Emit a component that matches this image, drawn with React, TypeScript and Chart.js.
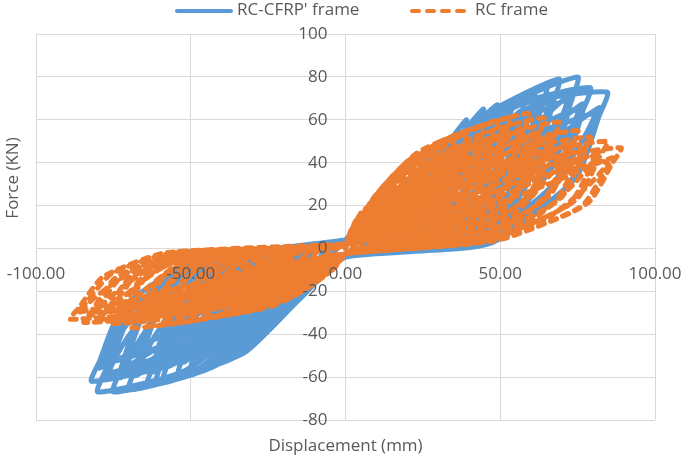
import React, { useEffect, useRef } from "react";
import { Chart, registerables } from "chart.js";

Chart.register(...registerables);

// ---- data ----
const seriesNames = ["RC-CFRP' frame", "RC frame"];
const xTitle = "Displacement (mm)";
const yTitle = "Force (KN)";
const xTickLabels = ["-100.00", "-50.00", "0.00", "50.00", "100.00"];
const yTickLabels = ["-80", "-60", "-40", "-20", "0", "20", "40", "60", "80", "100"];

// One row per loading cycle, x,y pairs along the path:
// 2 loading points, positive peak, 3 unloading points, zero crossing,
// 2 loading points, negative peak, 3 unloading points, zero crossing
const cfrpCycles: number[][] = [
  [1.5, 6.3, 3.3, 11.6, 5, 14, 4.9, 11.9, 4.4, 6.3, 2.8, 0.4, 0, -4, -1.5, -4.5, -3.3, -5.1, -5, -6, -4.9, -5.1, -4.4, -2.7, -3, -0.6, 0, 4],
  [3, 9, 6.5, 16.6, 10, 20, 9.7, 17, 8.8, 9, 5.5, 0.6, 0, -4, -3, -5.5, -6.5, -9.4, -10, -11, -9.7, -9.4, -8.8, -5, -6, -1.1, 0, 4],
  [4.5, 11.7, 9.8, 19, 15, 26, 14.6, 22.1, 13.2, 11.7, 8.3, 0.8, 0, -4, -4.5, -6.5, -9.8, -12.8, -15, -15, -14.6, -12.8, -13.2, -6.8, -9, -1.5, 0, 4],
  [6, 12, 13, 22, 20, 31, 19.4, 26.4, 17.6, 14, 11, 0.9, 0, -4, -6, -9.2, -13, -18.7, -20, -22, -19.4, -18.7, -17.6, -9.9, -12, -2.2, 0, 4],
  [8, 8.7, 14.4, 18.6, 19.4, 27.9, 18.8, 23.6, 17, 12.4, 10.4, 0.9, 0, -4, -8, -6.6, -14.4, -14.3, -19.4, -19.8, -18.8, -16.7, -17, -8.8, -11.4, -2, 0, 4],
  [7.5, 13.7, 16.3, 25, 25, 38, 24.3, 32.3, 22, 17.1, 13.8, 1.1, 0, -4, -7.5, -11.8, -16.3, -23.8, -25, -28, -24.3, -23.8, -22, -12.6, -15, -2.8, 0, 4],
  [10, 10.6, 18, 22.8, 24.3, 34.2, 23.5, 28.9, 21.3, 15.2, 13, 1.1, 0, -4, -10, -8.4, -18, -18.2, -24.3, -25.2, -23.5, -21.3, -21.3, -11.2, -14.3, -2.5, 0, 4],
  [9, 16.6, 19.5, 27, 30, 46, 29.1, 39.1, 26.4, 20.7, 16.5, 1.4, 0, -4, -9, -13.9, -19.5, -28, -30, -33, -29.1, -28, -26.4, -14.9, -18, -3.3, 0, 4],
  [12, 12.9, 21.6, 27.6, 29.1, 41.4, 28.2, 35, 25.5, 18.4, 15.6, 1.4, 0, -4, -12, -9.9, -21.6, -21.5, -29.1, -29.7, -28.2, -25.1, -25.5, -13.2, -17.1, -3, 0, 4],
  [10.2, 18.7, 22.1, 31, 34, 52, 33, 44.2, 29.9, 23.4, 18.7, 1.6, 0, -4, -10.2, -15.5, -22.1, -31.5, -34, -37, -33, -31.5, -29.9, -16.7, -20.4, -3.7, 0, 4],
  [13.6, 14.6, 24.5, 31.2, 33, 46.8, 32, 39.5, 28.9, 20.8, 17.7, 1.6, 0, -4, -13.6, -11.1, -24.5, -24.1, -33, -33.3, -32, -28.1, -28.9, -14.8, -19.4, -3.3, 0, 4],
  [11.7, 21.6, 25.4, 35, 39, 60, 37.8, 51, 34.3, 27, 21.5, 1.8, 0, -4, -11.7, -17.6, -25.4, -35.7, -39, -42, -37.8, -35.7, -34.3, -18.9, -23.4, -4.2, 0, 4],
  [15.6, 16.8, 28.1, 36, 37.8, 54, 36.7, 45.6, 33.2, 24, 20.3, 1.8, 0, -4, -15.6, -12.6, -28.1, -27.3, -37.8, -37.8, -36.7, -31.9, -33.2, -16.8, -22.2, -3.8, 0, 4],
  [13.4, 23.4, 28.9, 39, 44.5, 65, 43.2, 55.3, 39.2, 29.3, 24.5, 2, 0, -4, -13.2, -21, -28.6, -42.5, -44, -50, -42.7, -42.5, -38.7, -22.5, -26.4, -5, 0, 4],
  [17.8, 18.2, 32, 39, 43.2, 58.5, 41.8, 49.4, 37.8, 26, 23.1, 2, 0, -4, -17.6, -15, -31.7, -32.5, -42.7, -45, -41.4, -38, -37.4, -20, -25.1, -4.5, 0, 4],
  [14.7, 24.1, 31.9, 44, 49, 67, 47.5, 57, 43.1, 30.2, 27, 2, 0, -4, -15, -23.9, -32.5, -48.5, -50, -57, -48.5, -48.5, -44, -25.7, -30, -5.7, 0, 4],
  [19.6, 18.8, 35.3, 40.2, 47.5, 60.3, 46.1, 50.9, 41.7, 26.8, 25.5, 2, 0, -4, -20, -17.1, -36, -37.1, -48.5, -51.3, -47, -43.3, -42.5, -22.8, -28.5, -5.1, 0, 4],
  [16.2, 24.8, 35.1, 50, 54, 69, 52.4, 58.7, 47.5, 31, 29.7, 2.1, 0, -4, -16.2, -24.8, -35.1, -50.2, -54, -59, -52.4, -50.2, -47.5, -26.6, -32.4, -5.9, 0, 4],
  [21.6, 19.3, 38.9, 41.4, 52.4, 62.1, 50.8, 52.4, 45.9, 27.6, 28.1, 2.1, 0, -4, -21.6, -17.7, -38.9, -38.4, -52.4, -53.1, -50.8, -44.8, -45.9, -23.6, -30.8, -5.3, 0, 4],
  [17.4, 25.6, 37.7, 53, 58, 71, 56.3, 60.4, 51, 32, 31.9, 2.1, 0, -4, -17.6, -25.6, -38.2, -51.9, -58.7, -61, -56.9, -51.9, -51.7, -27.5, -35.2, -6.1, 0, 4],
  [23.2, 19.9, 41.8, 42.6, 56.3, 63.9, 54.5, 54, 49.3, 28.4, 30.2, 2.1, 0, -4, -23.5, -18.3, -42.3, -39.7, -56.9, -54.9, -55.2, -46.4, -49.9, -24.4, -33.5, -5.5, 0, 4],
  [18.3, 26.3, 39.7, 56, 61, 73, 59.2, 62, 53.7, 32.9, 33.6, 2.2, 0, -4, -18.3, -26, -39.7, -52.7, -61, -62, -59.2, -52.7, -53.7, -27.9, -36.6, -6.2, 0, 4],
  [24.4, 20.4, 43.9, 43.8, 59.2, 65.7, 57.3, 55.5, 51.9, 29.2, 31.7, 2.2, 0, -4, -24.4, -18.6, -43.9, -40.3, -59.2, -55.8, -57.3, -47.1, -51.9, -24.8, -34.8, -5.6, 0, 4],
  [19.5, 27.4, 42.3, 59, 65, 76, 63, 64.6, 57.2, 34.2, 35.8, 2.3, 0, -4, -19.2, -26.9, -41.6, -54.4, -64, -64, -62.1, -54.4, -56.3, -28.8, -38.4, -6.4, 0, 4],
  [26, 21.3, 46.8, 45.6, 63, 68.4, 61.1, 57.8, 55.3, 30.4, 33.8, 2.3, 0, -4, -25.6, -19.2, -46.1, -41.6, -62.1, -57.6, -60.2, -48.6, -54.4, -25.6, -36.5, -5.8, 0, 4],
  [20.7, 28.4, 44.9, 62, 69, 79, 66.9, 67.2, 60.7, 35.6, 38, 2.4, 0, -4, -21, -27.7, -45.5, -56.1, -70, -66, -67.9, -56.1, -61.6, -29.7, -42, -6.6, 0, 4],
  [27.6, 22.1, 49.7, 47.4, 66.9, 71.1, 64.9, 60, 58.7, 31.6, 35.9, 2.4, 0, -4, -28, -19.8, -50.4, -42.9, -67.9, -59.4, -65.8, -50.2, -59.5, -26.4, -39.9, -5.9, 0, 4],
  [22.5, 28.8, 48.8, 64, 75, 80, 72.8, 68, 66, 36, 41.3, 2.4, 0, -4, -22.5, -28.1, -48.8, -57, -75, -67, -72.8, -57, -66, -30.2, -45, -6.7, 0, 4],
  [30, 22.4, 54, 48, 72.8, 72, 70.5, 60.8, 63.8, 32, 39, 2.4, 0, -4, -30, -20.1, -54, -43.6, -72.8, -60.3, -70.5, -50.9, -63.8, -26.8, -42.8, -6, 0, 4],
  [23.7, 27, 51.4, 65, 79, 75, 76.6, 63.8, 69.5, 33.8, 43.5, 2.3, 0, -4, -24, -28.1, -52, -57, -80, -67, -77.6, -57, -70.4, -30.2, -48, -6.7, 0, 4],
  [31.6, 21, 56.9, 45, 76.6, 67.5, 74.3, 57, 67.2, 30, 41.1, 2.3, 0, -4, -32, -20.1, -57.6, -43.6, -77.6, -60.3, -75.2, -50.9, -68, -26.8, -45.6, -6, 0, 4],
  [25.4, 26.3, 54.9, 66, 84.5, 73, 82, 62, 74.4, 32.9, 46.5, 2.2, 0, -4, -24.6, -26, -53.3, -52.7, -82, -62, -79.5, -52.7, -72.2, -27.9, -49.2, -6.2, 0, 4],
  [33.8, 20.4, 60.8, 43.8, 82, 65.7, 79.4, 55.5, 71.8, 29.2, 43.9, 2.2, 0, -4, -32.8, -18.6, -59, -40.3, -79.5, -55.8, -77.1, -47.1, -69.7, -24.8, -46.7, -5.6, 0, 4],
];

// third cycle at each larger amplitude
const cfrpCycles3: number[][] = [
  [10.5, 15.2, 20.4, 31.3, 28.5, 39.6, 26.4, 28.5, 21.6, 11.5, 13.5, 1.4, 0, -4, -10.5, -11.6, -20.4, -23.1, -28.5, -28.4, -26.4, -20.5, -21.6, -9.2, -15, -2.3, 0, 4],
  [11.9, 17.2, 23.1, 35.4, 32.3, 44.7, 29.9, 32.2, 24.5, 13, 15.3, 1.6, 0, -4, -11.9, -13, -23.1, -25.9, -32.3, -31.8, -29.9, -22.9, -24.5, -10.4, -17, -2.6, 0, 4],
  [13.7, 19.8, 26.5, 40.8, 37, 51.6, 34.3, 37.2, 28.1, 15, 17.6, 1.8, 0, -4, -13.7, -14.7, -26.5, -29.4, -37, -36.1, -34.3, -26, -28.1, -11.8, -19.5, -2.9, 0, 4],
  [15.6, 21.5, 30.3, 44.2, 42.3, 55.9, 39.2, 40.3, 32, 16.3, 20, 2, 0, -4, -15.4, -17.5, -29.9, -35, -41.8, -43, -38.7, -31, -31.7, -14, -22, -3.5, 0, 4],
  [17.2, 22.1, 33.3, 45.6, 46.6, 57.6, 43.1, 41.5, 35.3, 16.8, 22, 2, 0, -4, -17.5, -20, -34, -39.9, -47.5, -49, -44, -35.3, -36, -16, -25, -4, 0, 4],
  [18.9, 22.8, 36.7, 46.9, 51.3, 59.3, 47.5, 42.8, 38.9, 17.3, 24.3, 2.1, 0, -4, -18.9, -20.7, -36.7, -41.3, -51.3, -50.7, -47.5, -36.6, -38.9, -16.5, -27, -4.1, 0, 4],
  [20.3, 23.4, 39.4, 48.3, 55.1, 61.1, 51, 44, 41.8, 17.8, 26.1, 2.1, 0, -4, -20.5, -21.4, -39.9, -42.7, -55.8, -52.5, -51.7, -37.8, -42.3, -17.1, -29.4, -4.3, 0, 4],
  [21.4, 24.1, 41.5, 49.6, 58, 62.8, 53.7, 45.3, 43.9, 18.3, 27.5, 2.2, 0, -4, -21.4, -21.7, -41.5, -43.4, -58, -53.3, -53.7, -38.4, -43.9, -17.4, -30.5, -4.3, 0, 4],
  [22.8, 25.1, 44.2, 51.7, 61.8, 65.4, 57.2, 47.1, 46.8, 19, 29.3, 2.3, 0, -4, -22.4, -22.4, -43.5, -44.8, -60.8, -55, -56.3, -39.7, -46.1, -17.9, -32, -4.5, 0, 4],
  [24.2, 26.1, 46.9, 53.7, 65.6, 67.9, 60.7, 49, 49.7, 19.8, 31, 2.4, 0, -4, -24.5, -23.1, -47.6, -46.2, -66.5, -56.8, -61.6, -40.9, -50.4, -18.5, -35, -4.6, 0, 4],
  [26.3, 26.4, 51, 54.4, 71.3, 68.8, 66, 49.6, 54, 20, 33.8, 2.4, 0, -4, -26.3, -23.5, -51, -46.9, -71.3, -57.6, -66, -41.5, -54, -18.8, -37.5, -4.7, 0, 4],
  [27.7, 24.8, 53.7, 51, 75, 64.5, 69.5, 46.5, 56.9, 18.8, 35.6, 2.3, 0, -4, -28, -23.5, -54.4, -46.9, -76, -57.6, -70.4, -41.5, -57.6, -18.8, -40, -4.7, 0, 4],
  [29.6, 24.1, 57.5, 49.6, 80.3, 62.8, 74.4, 45.3, 60.8, 18.3, 38, 2.2, 0, -4, -28.7, -21.7, -55.8, -43.4, -77.9, -53.3, -72.2, -38.4, -59, -17.4, -41, -4.3, 0, 4],
];

const rcCycles: number[][] = [
  [1.5, 7.5, 3.3, 12.8, 5, 15, 4.9, 12.8, 4.4, 6.8, 2.8, 1.2, 0, -2.5, -1.5, -4.4, -3.3, -7, -5, -8, -4.9, -6.8, -4.4, -3.2, -3.3, -0.5, 0, 2],
  [2.4, 10, 5.2, 17, 8, 20, 7.8, 17, 7, 9, 4.4, 1.6, 0, -2.5, -2.4, -7.2, -5.2, -11.4, -8, -13, -7.8, -11, -7, -5.2, -5.2, -0.8, 0, 2],
  [4, 13, 8.8, 22.1, 13.5, 26, 13.1, 22.1, 11.9, 11.7, 7.4, 2.1, 0, -2.5, -4, -9.4, -8.8, -15, -13.5, -17, -13.1, -14.5, -11.9, -6.8, -8.8, -1, 0, 2],
  [5.4, 16, 11.7, 27.2, 18, 32, 17.5, 27.2, 15.8, 14.4, 9.9, 2.6, 0, -2.5, -5.4, -11, -11.7, -17.6, -18, -20, -17.5, -17, -15.8, -8, -11.7, -1.2, 0, 2],
  [7.2, 9.6, 13, 19.8, 17.5, 28.8, 16.9, 24.3, 15.3, 12.8, 9.4, 2.2, 0, -2.5, -7.2, -7, -13, -13.6, -17.5, -18, -16.9, -15.2, -15.3, -7.2, -11.2, -1, 0, 2],
  [6.9, 19, 15, 32.3, 23, 38, 22.3, 32.3, 20.2, 17.1, 12.7, 3, 0, -2.5, -6.9, -12.7, -15, -20.2, -23, -23, -22.3, -19.6, -20.2, -9.2, -15, -1.4, 0, 2],
  [9.2, 11.4, 16.6, 23.6, 22.3, 34.2, 21.6, 28.9, 19.6, 15.2, 12, 2.7, 0, -2.5, -9.2, -8, -16.6, -15.6, -22.3, -20.7, -21.6, -17.5, -19.6, -8.3, -14.3, -1.2, 0, 2],
  [8.1, 21.5, 17.6, 36.6, 27, 43, 26.2, 36.6, 23.8, 19.4, 14.9, 3.4, 0, -2.5, -8.1, -14.3, -17.6, -22.9, -27, -26, -26.2, -22.1, -23.8, -10.4, -17.6, -1.6, 0, 2],
  [10.8, 12.9, 19.4, 26.7, 26.2, 38.7, 25.4, 32.7, 23, 17.2, 14, 3, 0, -2.5, -10.8, -9.1, -19.4, -17.7, -26.2, -23.4, -25.4, -19.8, -23, -9.4, -16.7, -1.3, 0, 2],
  [9.3, 24, 20.2, 40.8, 31, 48, 30.1, 40.8, 27.3, 21.6, 17, 3.8, 0, -2.5, -9.3, -15.4, -20.2, -24.6, -31, -28, -30.1, -23.8, -27.3, -11.2, -20.2, -1.7, 0, 2],
  [12.4, 14.4, 22.3, 29.8, 30.1, 43.2, 29.1, 36.5, 26.4, 19.2, 16.1, 3.4, 0, -2.5, -12.4, -9.8, -22.3, -19, -30.1, -25.2, -29.1, -21.3, -26.4, -10.1, -19.2, -1.4, 0, 2],
  [10.5, 26, 22.8, 44.2, 35, 52, 34, 44.2, 30.8, 23.4, 19.3, 4.2, 0, -2.5, -10.5, -16.5, -22.8, -26.4, -35, -30, -34, -25.5, -30.8, -12, -22.8, -1.8, 0, 2],
  [14, 15.6, 25.2, 32.2, 34, 46.8, 32.9, 39.5, 29.8, 20.8, 18.2, 3.6, 0, -2.5, -14, -10.5, -25.2, -20.4, -34, -27, -32.9, -22.8, -29.8, -10.8, -21.7, -1.5, 0, 2],
  [11.7, 26.5, 25.4, 45, 39, 53, 37.8, 45, 34.3, 23.9, 21.5, 4.2, 0, -2.5, -11.7, -17, -25.4, -27.3, -39, -31, -37.8, -26.4, -34.3, -12.4, -25.4, -1.9, 0, 2],
  [15.6, 15.9, 28.1, 32.9, 37.8, 47.7, 36.7, 40.3, 33.2, 21.2, 20.3, 3.7, 0, -2.5, -15.6, -10.9, -28.1, -21.1, -37.8, -27.9, -36.7, -23.6, -33.2, -11.2, -24.2, -1.6, 0, 2],
  [13.4, 28.5, 28.9, 48.5, 44.5, 57, 43.2, 48.5, 39.2, 25.7, 24.5, 4.6, 0, -2.5, -13.4, -17.6, -28.9, -28.2, -44.5, -32, -43.2, -27.2, -39.2, -12.8, -28.9, -1.9, 0, 2],
  [17.8, 17.1, 32, 35.3, 43.2, 51.3, 41.8, 43.3, 37.8, 22.8, 23.1, 4, 0, -2.5, -17.8, -11.2, -32, -21.8, -43.2, -28.8, -41.8, -24.3, -37.8, -11.5, -27.6, -1.6, 0, 2],
  [14.7, 29.5, 31.9, 50.2, 49, 59, 47.5, 50.2, 43.1, 26.6, 27, 4.7, 0, -2.5, -14.7, -18.2, -31.9, -29, -49, -33, -47.5, -28, -43.1, -13.2, -31.9, -2, 0, 2],
  [19.6, 17.7, 35.3, 36.6, 47.5, 53.1, 46.1, 44.8, 41.7, 23.6, 25.5, 4.1, 0, -2.5, -19.6, -11.6, -35.3, -22.4, -47.5, -29.7, -46.1, -25.1, -41.7, -11.9, -30.4, -1.7, 0, 2],
  [15.9, 30.5, 34.5, 51.9, 53, 61, 51.4, 51.9, 46.6, 27.5, 29.2, 4.9, 0, -2.5, -15.9, -18.7, -34.5, -29.9, -53, -34, -51.4, -28.9, -46.6, -13.6, -34.5, -2, 0, 2],
  [21.2, 18.3, 38.2, 37.8, 51.4, 54.9, 49.8, 46.4, 45, 24.4, 27.6, 4.3, 0, -2.5, -21.2, -11.9, -38.2, -23.1, -51.4, -30.6, -49.8, -25.8, -45, -12.2, -32.9, -1.7, 0, 2],
  [17.7, 31.5, 38.4, 53.6, 59, 63, 57.2, 53.6, 51.9, 28.4, 32.5, 5, 0, -2.5, -17.7, -19, -38.4, -30.4, -59, -34.5, -57.2, -29.3, -51.9, -13.8, -38.4, -2.1, 0, 2],
  [23.6, 18.9, 42.5, 39.1, 57.2, 56.7, 55.5, 47.9, 50.2, 25.2, 30.7, 4.4, 0, -2.5, -23.6, -12.1, -42.5, -23.5, -57.2, -31.1, -55.5, -26.2, -50.2, -12.4, -36.6, -1.7, 0, 2],
  [19.2, 30.5, 41.6, 51.9, 64, 61, 62.1, 51.9, 56.3, 27.5, 35.2, 4.9, 0, -2.5, -19.2, -19.8, -41.6, -31.7, -64, -36, -62.1, -30.6, -56.3, -14.4, -41.6, -2.2, 0, 2],
  [25.6, 18.3, 46.1, 37.8, 62.1, 54.9, 60.2, 46.4, 54.4, 24.4, 33.3, 4.3, 0, -2.5, -25.6, -12.6, -46.1, -24.5, -62.1, -32.4, -60.2, -27.4, -54.4, -13, -39.7, -1.8, 0, 2],
  [20.7, 29.5, 44.9, 50.2, 69, 59, 66.9, 50.2, 60.7, 26.6, 38, 4.7, 0, -2.5, -20.7, -20.4, -44.9, -32.6, -69, -37, -66.9, -31.5, -60.7, -14.8, -44.9, -2.2, 0, 2],
  [27.6, 17.7, 49.7, 36.6, 66.9, 53.1, 64.9, 44.8, 58.7, 23.6, 35.9, 4.1, 0, -2.5, -27.6, -13, -49.7, -25.2, -66.9, -33.3, -64.9, -28.1, -58.7, -13.3, -42.8, -1.9, 0, 2],
  [22.5, 27.5, 48.8, 46.8, 75, 55, 72.8, 46.8, 66, 24.8, 41.3, 4.4, 0, -2.5, -22.5, -19.3, -48.8, -30.8, -75, -35, -72.8, -29.8, -66, -14, -48.8, -2.1, 0, 2],
  [30, 16.5, 54, 34.1, 72.8, 49.5, 70.5, 41.8, 63.8, 22, 39, 3.9, 0, -2.5, -30, -12.3, -54, -23.8, -72.8, -31.5, -70.5, -26.6, -63.8, -12.6, -46.5, -1.8, 0, 2],
  [23.7, 26, 51.4, 44.2, 79, 52, 76.6, 44.2, 69.5, 23.4, 43.5, 4.2, 0, -2.5, -23.7, -18.2, -51.4, -29, -79, -33, -76.6, -28, -69.5, -13.2, -51.4, -2, 0, 2],
  [31.6, 15.6, 56.9, 32.2, 76.6, 46.8, 74.3, 39.5, 67.2, 20.8, 41.1, 3.6, 0, -2.5, -31.6, -11.6, -56.9, -22.4, -76.6, -29.7, -74.3, -25.1, -67.2, -11.9, -49, -1.7, 0, 2],
  [25.4, 25, 54.9, 42.5, 84.5, 50, 82, 42.5, 74.4, 22.5, 46.5, 4, 0, -2.5, -25.4, -19, -54.9, -30.4, -84.5, -34.5, -82, -29.3, -74.4, -13.8, -54.9, -2.1, 0, 2],
  [33.8, 15, 60.8, 31, 82, 45, 79.4, 38, 71.8, 20, 43.9, 3.5, 0, -2.5, -33.8, -12.1, -60.8, -23.5, -82, -31.1, -79.4, -26.2, -71.8, -12.4, -52.4, -1.7, 0, 2],
  [26.7, 23.5, 57.9, 40, 89, 47, 86.3, 40, 78.3, 21.2, 49, 3.8, 0, -2.5, -26.7, -18.2, -57.9, -29, -89, -33, -86.3, -28, -78.3, -13.2, -57.9, -2, 0, 2],
  [35.6, 14.1, 64.1, 29.1, 86.3, 42.3, 83.7, 35.7, 75.7, 18.8, 46.3, 3.3, 0, -2.5, -35.6, -11.6, -64.1, -22.4, -86.3, -29.7, -83.7, -25.1, -75.7, -11.9, -55.2, -1.7, 0, 2],
];

const rcCycles3: number[][] = [
  [9.5, 15.5, 18.4, 30.1, 25.7, 37, 23.8, 26.7, 19.4, 12, 12.2, 2.2, 0, -2.5, -9.5, -10.4, -18.4, -19.2, -25.7, -22.4, -23.8, -15.6, -20, -6.5, -14.9, -1, 0, 2],
  [10.9, 17.3, 21.1, 33.6, 29.5, 41.3, 27.3, 29.8, 22.3, 13.4, 14, 2.4, 0, -2.5, -10.9, -11.2, -21.1, -20.7, -29.5, -24.1, -27.3, -16.8, -22.9, -7, -17.1, -1.1, 0, 2],
  [12.3, 18.7, 23.8, 36.4, 33.3, 44.7, 30.8, 32.2, 25.2, 14.6, 15.8, 2.6, 0, -2.5, -12.3, -12, -23.8, -22.2, -33.3, -25.8, -30.8, -18, -25.9, -7.5, -19.3, -1.2, 0, 2],
  [13.7, 19.1, 26.5, 37.1, 37, 45.6, 34.3, 32.9, 28.1, 14.8, 17.6, 2.7, 0, -2.5, -13.7, -12.4, -26.5, -22.9, -37, -26.7, -34.3, -18.6, -28.9, -7.8, -21.5, -1.2, 0, 2],
  [15.6, 20.5, 30.3, 39.9, 42.3, 49, 39.2, 35.3, 32, 16, 20, 2.9, 0, -2.5, -15.6, -12.8, -30.3, -23.7, -42.3, -27.5, -39.2, -19.2, -32.9, -8, -24.5, -1.3, 0, 2],
  [17.2, 21.2, 33.3, 41.3, 46.6, 50.7, 43.1, 36.6, 35.3, 16.5, 22, 3, 0, -2.5, -17.2, -13.2, -33.3, -24.4, -46.6, -28.4, -43.1, -19.8, -36.3, -8.3, -27, -1.3, 0, 2],
  [18.6, 22, 36, 42.7, 50.4, 52.5, 46.6, 37.8, 38.2, 17.1, 23.9, 3.1, 0, -2.5, -18.6, -13.6, -36, -25.2, -50.4, -29.2, -46.6, -20.4, -39.2, -8.5, -29.2, -1.4, 0, 2],
  [20.7, 22.7, 40.1, 44.1, 56, 54.2, 51.9, 39.1, 42.5, 17.6, 26.6, 3.2, 0, -2.5, -20.7, -13.8, -40.1, -25.5, -56, -29.7, -51.9, -20.7, -43.7, -8.6, -32.5, -1.4, 0, 2],
  [22.4, 22, 43.5, 42.7, 60.8, 52.5, 56.3, 37.8, 46.1, 17.1, 28.8, 3.1, 0, -2.5, -22.4, -14.4, -43.5, -26.6, -60.8, -31, -56.3, -21.6, -47.4, -9, -35.2, -1.4, 0, 2],
  [24.2, 21.2, 46.9, 41.3, 65.6, 50.7, 60.7, 36.6, 49.7, 16.5, 31, 3, 0, -2.5, -24.2, -14.8, -46.9, -27.4, -65.6, -31.8, -60.7, -22.2, -51.1, -9.3, -38, -1.5, 0, 2],
  [26.3, 19.8, 51, 38.5, 71.3, 47.3, 66, 34.1, 54, 15.4, 33.8, 2.8, 0, -2.5, -26.3, -14, -51, -25.9, -71.3, -30.1, -66, -21, -55.5, -8.8, -41.3, -1.4, 0, 2],
  [27.7, 18.7, 53.7, 36.4, 75, 44.7, 69.5, 32.2, 56.9, 14.6, 35.6, 2.6, 0, -2.5, -27.7, -13.2, -53.7, -24.4, -75, -28.4, -69.5, -19.8, -58.5, -8.3, -43.5, -1.3, 0, 2],
  [29.6, 18, 57.5, 35, 80.3, 43, 74.4, 31, 60.8, 14, 38, 2.5, 0, -2.5, -29.6, -13.8, -57.5, -25.5, -80.3, -29.7, -74.4, -20.7, -62.5, -8.6, -46.5, -1.4, 0, 2],
  [31.2, 16.9, 60.5, 32.9, 84.6, 40.4, 78.3, 29.1, 64.1, 13.2, 40, 2.4, 0, -2.5, -31.2, -13.2, -60.5, -24.4, -84.6, -28.4, -78.3, -19.8, -65.9, -8.3, -49, -1.3, 0, 2],
];

// ---- styles ----
const BLUE = "#5B9BD5";
const ORANGE = "#ED7D31";
const TEXT = "#595959";
const GRID = "#D9D9D9";
const FONT_FAMILY = "'Open Sans', 'Liberation Sans', sans-serif";
const FONT = `17px ${FONT_FAMILY}`;
const LEGEND_DASH = [7, 8];
const DATA_DASH = [6, 7];

function toPoints(rows: number[][]) {
  const pts: { x: number; y: number }[] = [{ x: 0, y: 0 }];
  rows.forEach((row) => {
    for (let i = 0; i < row.length; i += 2) pts.push({ x: row[i], y: row[i + 1] });
  });
  return pts;
}

const textPlugin = {
  id: "textPlugin",
  afterDatasetsDraw(chart: any) {
    const { ctx } = chart;
    const xs = chart.scales.x;
    const ys = chart.scales.y;
    ctx.save();
    ctx.fillStyle = TEXT;
    ctx.font = FONT;
    ctx.textBaseline = "middle";
    const y0 = ys.getPixelForValue(0);
    ctx.textAlign = "center";
    xTickLabels.forEach((l) => ctx.fillText(l, xs.getPixelForValue(parseFloat(l)), y0 + 26));
    const x0 = xs.getPixelForValue(0);
    ctx.textAlign = "right";
    yTickLabels.forEach((l) => ctx.fillText(l, x0 - 18, ys.getPixelForValue(parseFloat(l))));
    ctx.restore();
  },
  afterDraw(chart: any) {
    const { ctx, chartArea } = chart;
    ctx.save();
    ctx.fillStyle = TEXT;
    ctx.font = FONT;
    ctx.textBaseline = "middle";
    ctx.textAlign = "center";
    ctx.fillText(xTitle, (chartArea.left + chartArea.right) / 2, 446);
    ctx.save();
    ctx.translate(13, 178);
    ctx.rotate(-Math.PI / 2);
    ctx.fillText(yTitle, 0, 0);
    ctx.restore();
    ctx.lineCap = "round";
    ctx.lineWidth = 4;
    ctx.strokeStyle = BLUE;
    ctx.beginPath();
    ctx.moveTo(177, 11);
    ctx.lineTo(231, 11);
    ctx.stroke();
    ctx.strokeStyle = ORANGE;
    ctx.setLineDash(LEGEND_DASH);
    ctx.beginPath();
    ctx.moveTo(412, 11);
    ctx.lineTo(468, 11);
    ctx.stroke();
    ctx.setLineDash([]);
    ctx.textAlign = "left";
    ctx.fillText(seriesNames[0], 237, 10);
    ctx.fillText(seriesNames[1], 475, 10);
    ctx.restore();
  },
};

export default function App() {
  const ref = useRef<HTMLCanvasElement | null>(null);
  useEffect(() => {
    if (!ref.current) return;
    const xVals = xTickLabels.map((l) => parseFloat(l));
    const yVals = yTickLabels.map((l) => parseFloat(l));
    const chart = new Chart(ref.current, {
      type: "scatter",
      data: {
        datasets: [
          {
            label: seriesNames[0],
            data: toPoints([...cfrpCycles, ...cfrpCycles3]),
            showLine: true,
            borderColor: BLUE,
            backgroundColor: BLUE,
            borderWidth: 5,
            pointRadius: 0,
            tension: 0.2,
            borderCapStyle: "round",
            borderJoinStyle: "round",
            order: 1,
          },
          {
            label: seriesNames[1],
            data: toPoints([...rcCycles, ...rcCycles3]),
            showLine: true,
            borderColor: ORANGE,
            backgroundColor: ORANGE,
            borderWidth: 5,
            pointRadius: 0,
            tension: 0.2,
            borderDash: DATA_DASH,
            borderCapStyle: "round",
            borderJoinStyle: "round",
            order: 0,
          },
        ],
      },
      options: {
        animation: false,
        responsive: false,
        devicePixelRatio: 1,
        layout: { padding: { left: 36, right: 30, top: 34, bottom: 39 } },
        plugins: { legend: { display: false }, tooltip: { enabled: false }, title: { display: false } },
        scales: {
          x: {
            type: "linear",
            position: { y: 0 } as any,
            min: xVals[0],
            max: xVals[xVals.length - 1],
            afterBuildTicks: (s: any) => {
              s.ticks = xVals.map((v) => ({ value: v }));
            },
            ticks: { display: false },
            grid: { color: GRID, lineWidth: 1, drawTicks: false },
            border: { display: false },
          },
          y: {
            type: "linear",
            position: { x: 0 } as any,
            min: yVals[0],
            max: yVals[yVals.length - 1],
            afterBuildTicks: (s: any) => {
              s.ticks = yVals.map((v) => ({ value: v }));
            },
            ticks: { display: false },
            grid: { color: GRID, lineWidth: 1, drawTicks: false },
            border: { display: false },
          },
        },
      },
      plugins: [textPlugin],
    });
    return () => chart.destroy();
  }, []);
  return (
    <div style={{ position: "fixed", left: 0, top: 0, width: 685, height: 459, background: "#fff" }}>
      <canvas ref={ref} width={685} height={459} style={{ width: 685, height: 459, display: "block" }} />
    </div>
  );
}
